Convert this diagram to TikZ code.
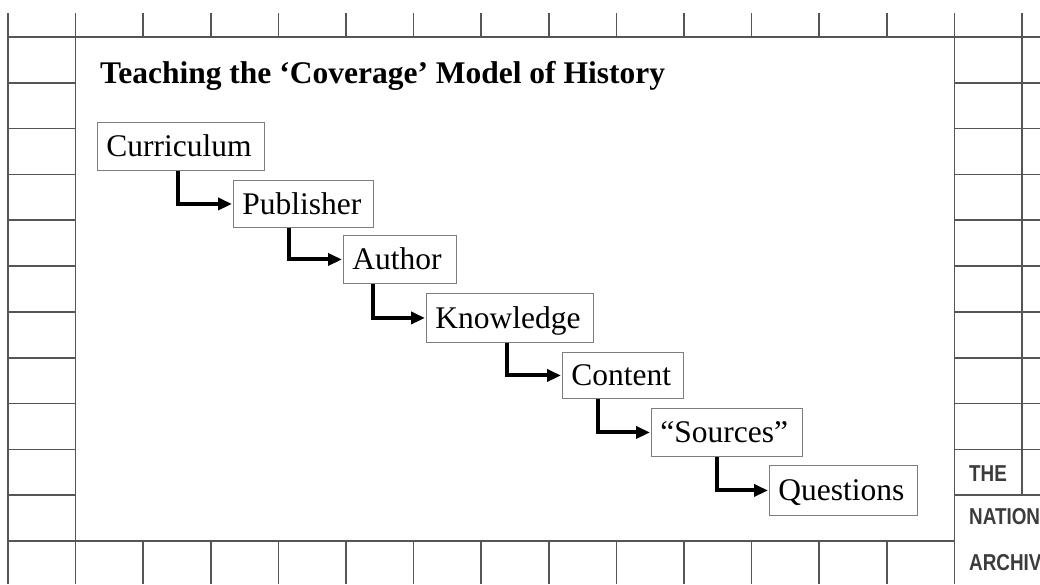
\documentclass[tikz,border=0pt]{standalone}
\usepackage{fontspec}
\setmainfont{Liberation Serif}
\newfontfamily\tnafont{Liberation Sans}
\usepackage{graphicx}
\usetikzlibrary{arrows.meta}
\definecolor{gridc}{RGB}{85,85,85}
\definecolor{boxc}{RGB}{125,125,125}
\definecolor{tnac}{RGB}{60,60,60}
\tikzset{
  gridline/.style={draw=gridc, line width=1.6pt},
  stepbox/.style={draw=boxc, line width=0.9pt, anchor=north west, inner xsep=9pt, inner ysep=0pt,
    align=left, text height=20.8pt, text depth=0pt, font=\fontsize{31.5}{36}\selectfont},
  conn/.style={line width=4pt, -{Triangle[length=14pt,width=12pt]}, line join=miter, shorten >=1pt},
  tna/.style={anchor=base west, inner sep=0pt, text=tnac, font=\tnafont\bfseries\fontsize{23}{25}\selectfont},
  titlestyle/.style={anchor=base west, inner sep=0pt, font=\bfseries\fontsize{31.5}{36}\selectfont}
}
\begin{document}
\begin{tikzpicture}[x=1pt,y=-1pt]
\clip (0,0) rectangle (1040,584);
\fill[white] (0,0) rectangle (1040,584);
% vertical grid lines
\foreach \k in {0,1,14} \draw[gridline] ({8+67.6*\k},13) -- ({8+67.6*\k},584);
\draw[gridline] (1022,13) -- (1022,494.8);
\foreach \k in {2,...,13} {
  \draw[gridline] ({8+67.6*\k},13) -- ({8+67.6*\k},37);
  \draw[gridline] ({8+67.6*\k},541) -- ({8+67.6*\k},584);
}
% horizontal grid lines
\draw[gridline] (8,37) -- (1040,37);
\draw[gridline] (8,541) -- (954.4,541);
\foreach \j in {1,...,10} {
  \draw[gridline] (8,{37+45.82*\j}) -- (75.6,{37+45.82*\j});
  \draw[gridline] (954.4,{37+45.82*\j}) -- (1040,{37+45.82*\j});
}
% logo text
\node[tna] (the) at (969,481) {\scalebox{0.82}[1]{THE}};
\node[tna] (nat) at (969,524.5) {\scalebox{0.82}[1]{NATIONAL}};
\node[tna] (arc) at (969,570) {\scalebox{0.82}[1]{ARCHIVES}};
% title
\node[titlestyle] (title) at (100,83) {Teaching the ‘Coverage’ Model of History};
% boxes
\node[stepbox, text width=149pt, minimum height=48pt] (cur) at (97,122) {Curriculum};
\node[stepbox, text width=122pt, minimum height=47pt] (pub) at (233,180) {Publisher};
\node[stepbox, text width=95pt, minimum height=48pt] (aut) at (343,235) {Author};
\node[stepbox, text width=149pt, minimum height=49pt] (kno) at (426,293) {Knowledge};
\node[stepbox, text width=103pt, minimum height=46pt] (con) at (562,352) {Content};
\node[stepbox, text width=133pt, minimum height=48pt] (src) at (651,408) {“Sources”};
\node[stepbox, text width=130pt, minimum height=50pt] (que) at (769,465) {Questions};
% connectors
\draw[conn] ([xshift=81pt]cur.south west) |- (pub.west);
\draw[conn] ([xshift=56pt]pub.south west) |- (aut.west);
\draw[conn] ([xshift=30pt]aut.south west) |- (kno.west);
\draw[conn] ([xshift=81pt]kno.south west) |- (con.west);
\draw[conn] ([xshift=36pt]con.south west) |- (src.west);
\draw[conn] ([xshift=66pt]src.south west) |- (que.west);
\end{tikzpicture}
\end{document}
